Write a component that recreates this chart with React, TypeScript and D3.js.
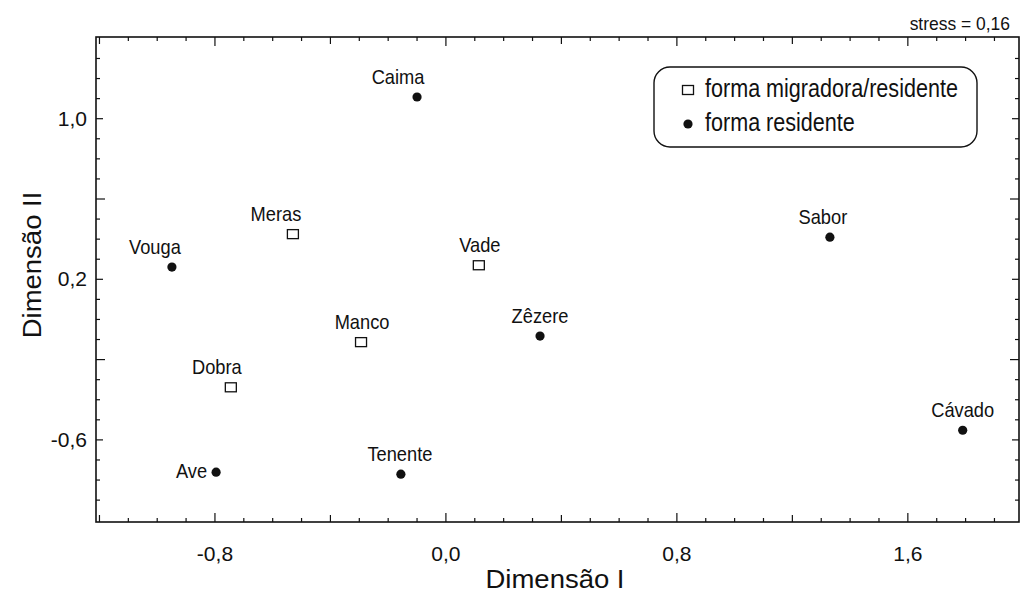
import React, { useEffect, useRef } from "react";
import * as d3 from "d3";

// MDS configuration - populations of trout
const names = ["Caima", "Vouga", "Meras", "Vade", "Manco", "Zêzere", "Dobra", "Ave", "Tenente", "Sabor", "Cávado"];
const dimI = [-0.1, -0.949, -0.53, 0.114, -0.294, 0.326, -0.745, -0.796, -0.156, 1.33, 1.79];
const dimII = [1.108, 0.261, 0.425, 0.27, -0.113, -0.083, -0.338, -0.761, -0.771, 0.41, -0.552];
const forma = ["res", "res", "mig", "mig", "mig", "res", "mig", "res", "res", "res", "res"];

// label nudges (px) relative to the marker
const labelDx = [-19, -17, -17, 1, 1, 0, -14, -9, -1, -7, 0];

const legendItems = [
  { key: "mig", text: "forma migradora/residente" },
  { key: "res", text: "forma residente" },
];

const xLabelTicks = [-0.8, 0.0, 0.8, 1.6];
const yLabelTicks = [-0.6, 0.2, 1.0];

const W = 1020;
const H = 596;
const FONT = "'Liberation Sans', Arial, sans-serif";

const fmt = (v: number) => v.toFixed(1).replace(".", ",");

export default function App() {
  const ref = useRef<SVGSVGElement>(null);

  useEffect(() => {
    const svg = d3.select(ref.current);
    svg.selectAll("*").remove();

    const left = 96, right = 1019, top = 37, bottom = 522;
    const x = d3.scaleLinear().domain([-1.212, 1.985]).range([left, right]);
    const y = d3.scaleLinear().domain([-1.009, 1.407]).range([bottom, top]);

    svg.append("rect").attr("width", W).attr("height", H).attr("fill", "#fff");

    const g = svg.append("g").attr("font-family", FONT).attr("fill", "#111");

    // text with horizontal squeeze/stretch (scanned figure uses narrow type)
    const txt = (sel: any, tx: number, ty: number, s: string, size: number, sx: number, anchor = "start", rot = 0) =>
      sel.append("text")
        .attr("transform", `translate(${tx},${ty}) rotate(${rot}) scale(${sx},1)`)
        .attr("text-anchor", anchor)
        .attr("font-size", size)
        .text(s);

    // frame
    g.append("rect")
      .attr("x", left).attr("y", top)
      .attr("width", right - left).attr("height", bottom - top)
      .attr("fill", "none").attr("stroke", "#111").attr("stroke-width", 1.6);

    // x ticks (inward, bottom and top)
    const xt = d3.range(-12, 20).map((i) => i / 10).filter((v) => x(v) > left + 2 && x(v) < right - 2);
    xt.forEach((v) => {
      const r = Math.round(v * 10);
      const len = r % 8 === 0 ? 9 : r % 4 === 0 ? 7 : 4;
      g.append("line").attr("x1", x(v)).attr("x2", x(v)).attr("y1", bottom).attr("y2", bottom - len)
        .attr("stroke", "#111").attr("stroke-width", 1.2);
      g.append("line").attr("x1", x(v)).attr("x2", x(v)).attr("y1", top).attr("y2", top + len)
        .attr("stroke", "#111").attr("stroke-width", 1.2);
    });

    // y ticks (inward, left and right)
    const yt = d3.range(-10, 15).map((i) => i / 10).filter((v) => y(v) > top + 2 && y(v) < bottom - 2);
    yt.forEach((v) => {
      const r = Math.round(v * 10) + 2;
      const len = r % 8 === 0 ? 9 : r % 4 === 0 ? 7 : 4;
      g.append("line").attr("x1", left).attr("x2", left + len).attr("y1", y(v)).attr("y2", y(v))
        .attr("stroke", "#111").attr("stroke-width", 1.2);
      g.append("line").attr("x1", right).attr("x2", right - len).attr("y1", y(v)).attr("y2", y(v))
        .attr("stroke", "#111").attr("stroke-width", 1.2);
    });

    // tick labels
    xLabelTicks.forEach((v) => txt(g, x(v), 561, fmt(v), 19.5, 1.08, "middle"));
    yLabelTicks.forEach((v) => txt(g, 87, y(v) + 7, fmt(v), 19.5, 1.08, "end"));

    // axis titles
    txt(g, 555, 588, "Dimensão I", 25, 1.1, "middle");
    txt(g, 41, 265, "Dimensão II", 25, 1.1, "middle", -90);

    txt(g, 1010, 30, "stress = 0,16", 18, 0.97, "end");

    // markers
    const drawMarker = (sel: any, kind: string, cx: number, cy: number) => {
      if (kind === "mig") {
        sel.append("rect").attr("x", cx - 5.5).attr("y", cy - 4.5).attr("width", 11).attr("height", 9)
          .attr("fill", "#fff").attr("stroke", "#111").attr("stroke-width", 1.3);
      } else {
        sel.append("circle").attr("cx", cx).attr("cy", cy).attr("r", 4.6).attr("fill", "#111");
      }
    };

    names.forEach((n, i) => {
      const cx = x(dimI[i]);
      const cy = y(dimII[i]);
      drawMarker(g, forma[i], cx, cy);
      if (n === "Ave") {
        txt(g, cx + labelDx[i], cy + 6, n, 21, 0.87, "end");
      } else {
        txt(g, cx + labelDx[i], cy - 13, n, 21, 0.87, "middle");
      }
    });

    // legend
    const lg = g.append("g");
    lg.append("rect").attr("x", 654).attr("y", 67).attr("width", 323).attr("height", 80)
      .attr("rx", 16).attr("fill", "#fff").attr("stroke", "#111").attr("stroke-width", 1.4);
    legendItems.forEach((it, i) => {
      const cy = 90 + i * 34;
      drawMarker(lg, it.key, 688, cy);
      txt(lg, 705, cy + 7, it.text, 26, 0.83);
    });
  }, []);

  return (
    <svg ref={ref} width={W} height={H} style={{ position: "absolute", left: 0, top: 0, display: "block" }} />
  );
}
